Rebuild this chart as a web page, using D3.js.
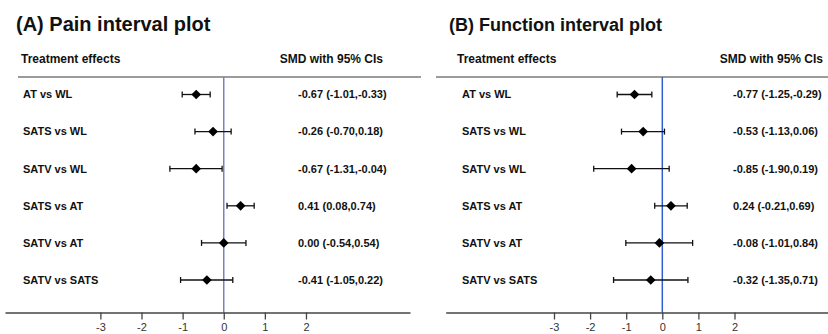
<!DOCTYPE html>
<html>
<head>
<meta charset="utf-8">
<script src="https://cdn.jsdelivr.net/npm/d3@7"></script>
<style>
  html, body { margin: 0; padding: 0; background: #fff; }
  svg { display: block; font-family: "Liberation Sans", Arial, Helvetica, sans-serif; }
</style>
</head>
<body>
<svg id="chart" width="828" height="334"></svg>
<script>
// ---- data ----
const comparisons = ["AT vs WL", "SATS vs WL", "SATV vs WL", "SATS vs AT", "SATV vs AT", "SATV vs SATS"];
const painSMD   = [-0.67, -0.26, -0.67, 0.41, 0.00, -0.41];
const painLower = [-1.01, -0.70, -1.31, 0.08, -0.54, -1.05];
const painUpper = [-0.33,  0.18, -0.04, 0.74, 0.54,  0.22];
const funcSMD   = [-0.77, -0.53, -0.85, 0.24, -0.08, -0.32];
const funcLower = [-1.25, -1.13, -1.90, -0.21, -1.01, -1.35];
const funcUpper = [-0.29,  0.06,  0.19, 0.69,  0.84,  0.71];
const tickValues = [-3, -2, -1, 0, 1, 2];
const titles = ["(A) Pain interval plot", "(B) Function interval plot"];
const headerLeft = "Treatment effects";
const headerRight = "SMD with 95% CIs";

const svg = d3.select("#chart");
const fmt = v => v.toFixed(2);

const panels = [
  { title: titles[0], smd: painSMD, lo: painLower, hi: painUpper,
    layout: { titleX: 16, titleSize: 20, headX: 21, labelX: 23, lineX0: 18, lineX1: 421,
              valX: 298, smdHeadX: 383,
              domain: [-5.32, 4.53], range: [5, 410], zeroColor: "#7482c2" } },
  { title: titles[1], smd: funcSMD, lo: funcLower, hi: funcUpper,
    layout: { titleX: 449, titleSize: 18, headX: 457, labelX: 462, lineX0: 436, lineX1: 828,
              valX: 733, smdHeadX: 823,
              domain: [-6.0, 4.59], range: [445.7, 828], zeroColor: "#2f5fd3" } }
];

const headLineY = 77;
const axisY = 312.5;
const y = d3.scalePoint(comparisons, [94.5, 280]);

panels.forEach(p => {
  const L = p.layout;
  const g = svg.append("g");
  const x = d3.scaleLinear(L.domain, L.range);

  // title
  g.append("text").attr("x", L.titleX).attr("y", 30.5)
    .attr("font-size", L.titleSize).attr("font-weight", "bold").attr("fill", "#111")
    .text(p.title);

  // headers
  g.append("text").attr("x", L.headX).attr("y", 63)
    .attr("font-size", 12).attr("font-weight", "bold").attr("fill", "#111")
    .text(headerLeft);
  g.append("text").attr("x", L.smdHeadX).attr("y", 63).attr("text-anchor", "end")
    .attr("font-size", 12).attr("font-weight", "bold").attr("fill", "#111")
    .text(headerRight);

  // header line
  g.append("line").attr("x1", L.lineX0).attr("x2", L.lineX1)
    .attr("y1", headLineY).attr("y2", headLineY)
    .attr("stroke", "#7a7a7a").attr("stroke-width", 1.5);

  // zero line
  g.append("line").attr("x1", x(0)).attr("x2", x(0))
    .attr("y1", headLineY).attr("y2", axisY)
    .attr("stroke", L.zeroColor).attr("stroke-width", 1.5);

  const rows = comparisons.map((c, i) => ({ c, m: p.smd[i], lo: p.lo[i], hi: p.hi[i] }));

  // row labels
  g.selectAll("text.lab").data(rows).join("text").attr("class", "lab")
    .attr("x", L.labelX).attr("y", d => y(d.c)).attr("dy", "0.35em")
    .attr("font-size", 11).attr("font-weight", "bold").attr("fill", "#111")
    .text(d => d.c);

  // values
  g.selectAll("text.val").data(rows).join("text").attr("class", "val")
    .attr("x", L.valX).attr("y", d => y(d.c)).attr("dy", "0.35em")
    .attr("font-size", 11).attr("font-weight", "bold").attr("fill", "#111")
    .text(d => `${fmt(d.m)} (${fmt(d.lo)},${fmt(d.hi)})`);

  // CI lines
  const ci = g.selectAll("g.ci").data(rows).join("g").attr("class", "ci")
    .attr("stroke", "#111").attr("stroke-width", 1.3);
  ci.append("line").attr("x1", d => x(d.lo)).attr("x2", d => x(d.hi))
    .attr("y1", d => y(d.c)).attr("y2", d => y(d.c));
  ci.append("line").attr("x1", d => x(d.lo)).attr("x2", d => x(d.lo))
    .attr("y1", d => y(d.c) - 3).attr("y2", d => y(d.c) + 3);
  ci.append("line").attr("x1", d => x(d.hi)).attr("x2", d => x(d.hi))
    .attr("y1", d => y(d.c) - 3).attr("y2", d => y(d.c) + 3);

  // diamonds
  const sym = d3.symbol(d3.symbolDiamond2, 60);
  g.selectAll("path.pt").data(rows).join("path").attr("class", "pt")
    .attr("d", sym)
    .attr("transform", d => `translate(${x(d.m)},${y(d.c)})`)
    .attr("fill", "#000");

  // axis
  const axis = d3.axisBottom(x).tickValues(tickValues).tickFormat(d3.format("d"))
    .tickSize(7).tickSizeOuter(0).tickPadding(4);
  const ag = g.append("g").attr("transform", `translate(0,${axisY})`).call(axis);
  ag.select(".domain").attr("stroke", "#444").attr("stroke-width", 1.3);
  ag.selectAll(".tick line").attr("stroke", "#444").attr("stroke-width", 1.3);
  ag.selectAll(".tick text").attr("font-size", 11).attr("fill", "#333")
    .attr("font-family", "\"Liberation Sans\", Arial, sans-serif")
    .text(d => String(d).replace("\u2212", "-"));
});
</script>
</body>
</html>
